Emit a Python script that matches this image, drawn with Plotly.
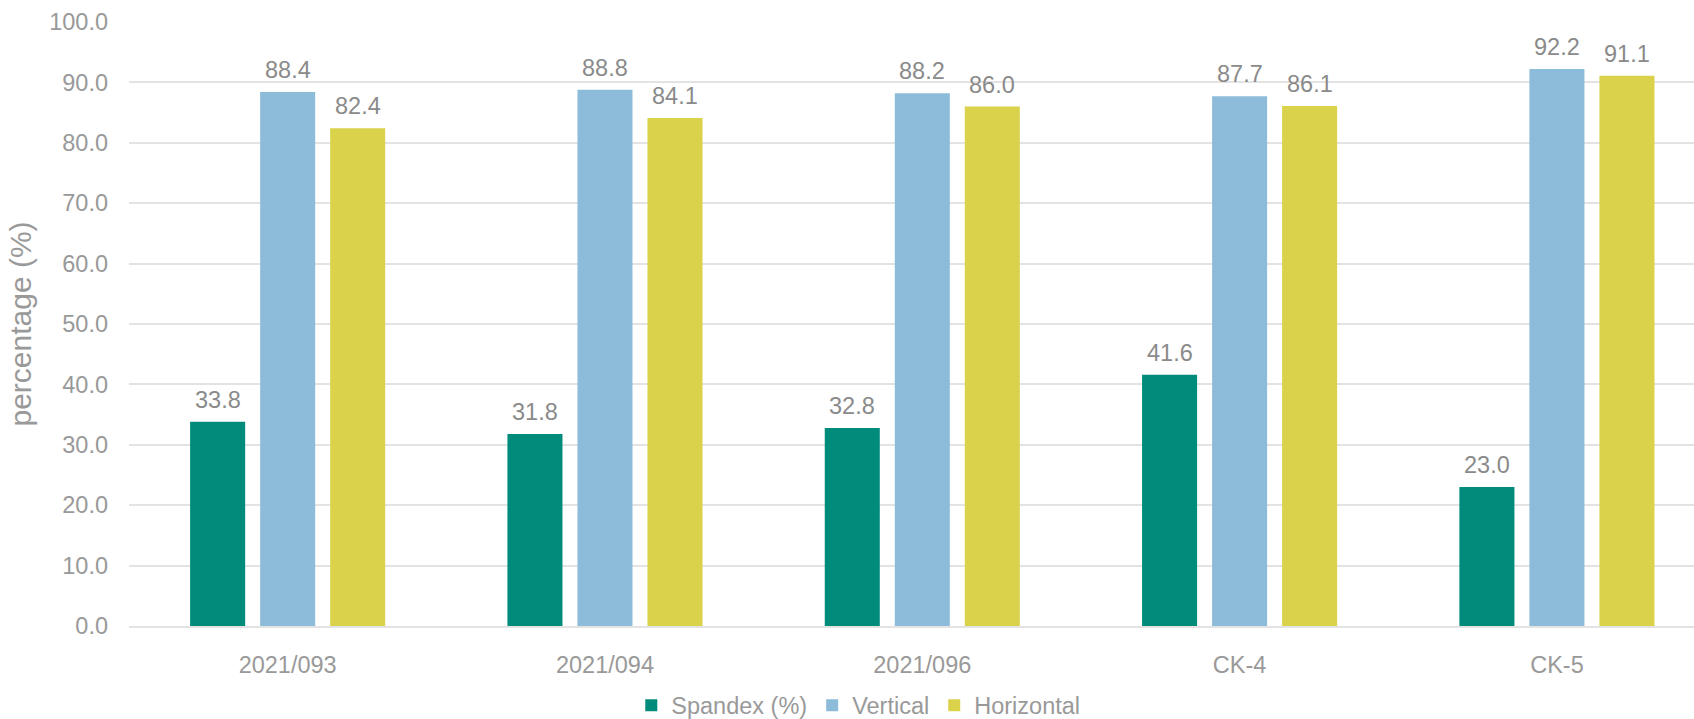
import plotly.graph_objects as go

categories = ["2021/093", "2021/094", "2021/096", "CK-4", "CK-5"]
spandex = [33.8, 31.8, 32.8, 41.6, 23.0]
vertical = [88.4, 88.8, 88.2, 87.7, 92.2]
horizontal = [82.4, 84.1, 86.0, 86.1, 91.1]

series_names = ["Spandex (%)", "Vertical", "Horizontal"]
series_values = [spandex, vertical, horizontal]
series_colors = ["#008B7A", "#8DBCDB", "#D9D24A"]

FONT = "Arial, 'Liberation Sans', sans-serif"
GRAY = "#999999"
LABEL_GRAY = "#8a8a8a"
GRID = "#e3e3e3"
SLOT_PX = 70  # pixel distance between neighbouring bars in a group

fig = go.Figure()
for name, vals, col in zip(series_names, series_values, series_colors):
    fig.add_trace(go.Bar(
        name=name, x=categories, y=vals,
        marker=dict(color=col, line=dict(width=0)),
    ))

# data labels, anchored to each bar's value on the axes
for i, vals in enumerate(series_values):
    for cat, v in zip(categories, vals):
        fig.add_annotation(
            x=cat, y=v, xref="x", yref="y",
            text=f"{v:.1f}", showarrow=False,
            xanchor="center", yanchor="bottom",
            xshift=(i - 1) * SLOT_PX, yshift=7,
            font=dict(family=FONT, size=23.5, color=LABEL_GRAY),
        )

fig.update_layout(
    width=1694, height=719,
    margin=dict(l=129, r=0, t=22, b=93, autoexpand=False),
    paper_bgcolor="white", plot_bgcolor="white",
    barmode="group", bargap=0.338, bargroupgap=0.214,
    font=dict(family=FONT, size=23.5, color=GRAY),
    showlegend=True,
    legend=dict(orientation="h", x=0.466, xanchor="center", y=-0.095, yanchor="top",
                font=dict(family=FONT, size=23.5, color=GRAY),
                borderwidth=0, itemwidth=30, itemsizing="constant", traceorder="normal"),
)
fig.update_xaxes(
    type="category", range=[-0.5, 4.432],
    showgrid=False, showline=True, linecolor=GRID, linewidth=1.5,
    ticks="", ticklabelstandoff=17,
    tickfont=dict(family=FONT, size=23.5, color=GRAY),
)
fig.update_yaxes(
    range=[0, 100], dtick=10, tick0=0, tickformat=".1f",
    showgrid=True, gridcolor=GRID, gridwidth=1.5, zeroline=False,
    ticks="", ticklabelstandoff=20,
    tickfont=dict(family=FONT, size=23.5, color=GRAY),
    title=dict(text="percentage (%)", standoff=8,
               font=dict(family=FONT, size=30, color=GRAY)),
)

fig.write_html("out.html", config={"displayModeBar": False},
               post_script="document.body.style.margin='0';document.body.style.overflow='hidden';")
